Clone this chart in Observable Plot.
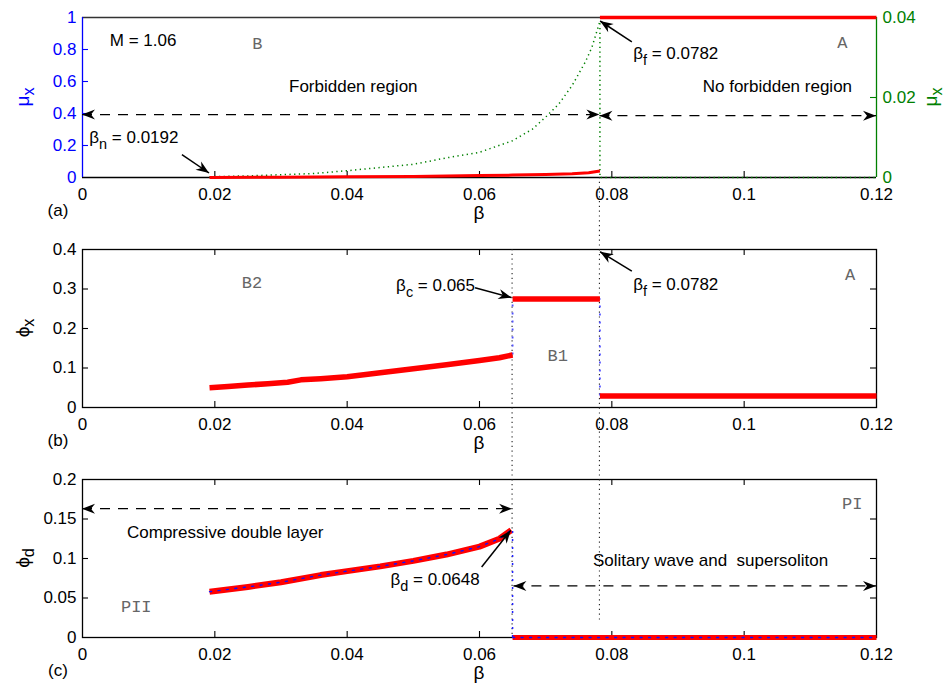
<!DOCTYPE html>
<html>
<head>
<meta charset="utf-8">
<script src="https://cdn.jsdelivr.net/npm/d3@7"></script>
<script src="https://cdn.jsdelivr.net/npm/@observablehq/plot@0.6"></script>
<style>
  body { margin: 0; background: #fff; }
  #fig { width: 949px; height: 683px; position: relative; overflow: hidden; }
  #fig svg { display: block; }
</style>
</head>
<body>
<div id="fig"></div>
<script>
// ---- tick values ----
const betaTicks = [0, 0.02, 0.04, 0.06, 0.08, 0.1, 0.12];
const muTicks = [0, 0.2, 0.4, 0.6, 0.8, 1];
const muRightTicks = [0, 0.02, 0.04];
const phiXTicks = [0, 0.1, 0.2, 0.3, 0.4];
const phiDTicks = [0, 0.05, 0.1, 0.15, 0.2];

// ---- critical β values (M = 1.06) ----
const betaN = 0.0192, betaC = 0.065, betaD = 0.0648, betaF = 0.0782;

// ---- (a) μ_x, left axis (red) ----
const muBetaLow = [0.0192, 0.03, 0.04, 0.05, 0.06, 0.065, 0.07, 0.074, 0.0765, 0.0782];
const muLow     = [0, 0.002, 0.004, 0.007, 0.012, 0.015, 0.019, 0.024, 0.03, 0.04];
const muBetaHigh = [0.0782, 0.12];
const muHigh     = [1, 1];

// ---- (a) μ_x, right axis (green dotted) ----
const mu2Beta = [0.0192, 0.025, 0.03, 0.035, 0.04, 0.045, 0.05, 0.055, 0.06, 0.065, 0.068, 0.07, 0.072, 0.074, 0.076, 0.077, 0.0782, 0.0782, 0.12];
const mu2     = [0.0002, 0.0004, 0.0007, 0.001, 0.0017, 0.0025, 0.0033, 0.0049, 0.0063, 0.0092, 0.0121, 0.0151, 0.0184, 0.023, 0.0289, 0.0326, 0.039, 0, 0];

// ---- (b) ϕ_x ----
const phiXBeta = [0.0192, 0.022, 0.025, 0.028, 0.031, 0.033, 0.036, 0.04, 0.045, 0.05, 0.055, 0.06, 0.063, 0.065];
const phiX     = [0.05, 0.053, 0.057, 0.06, 0.064, 0.07, 0.073, 0.078, 0.088, 0.098, 0.108, 0.119, 0.126, 0.133];
const phiXMidBeta = [0.065, 0.0782];
const phiXMid     = [0.275, 0.275];
const phiXHighBeta = [0.0782, 0.12];
const phiXHigh     = [0.029, 0.029];

// ---- (c) ϕ_d ----
const phiDBeta = [0.0192, 0.025, 0.03, 0.036, 0.04, 0.045, 0.05, 0.055, 0.06, 0.063, 0.0648];
const phiD     = [0.058, 0.064, 0.07, 0.079, 0.084, 0.09, 0.097, 0.105, 0.115, 0.125, 0.136];
const phiDHighBeta = [0.065, 0.12];
const phiDHigh     = [0, 0];

// ---- styling ----
const FONT = "'Liberation Sans', Arial, Helvetica, sans-serif";
const MONO = "'Liberation Mono', 'Courier New', monospace";
const RED = "#ff0000", BLUE = "#0000ff", GREEN = "#008000";
const W = 949, ML = 82, MR = 73;

const pts = (xs, ys) => xs.map((b, i) => ({b, v: ys[i]}));

// text with _{sub} subscripts
function addRich(text, str, shift) {
  const parts = str.split(/(_\{[^}]*\})/).filter(s => s);
  let down = false;
  for (const p of parts) {
    const m = p.match(/^_\{([^}]*)\}$/);
    const ts = text.append("tspan");
    if (m) { ts.text(m[1]).attr("dy", shift).attr("font-size", "0.85em"); down = true; }
    else { ts.text(p); if (down) { ts.attr("dy", -shift); down = false; } }
  }
}

// annotation labels placed in data coordinates
function notes(list) {
  return (index, scales) => {
    const g = d3.create("svg:g").style("white-space", "pre");
    for (const n of list) {
      const size = n.size || 17;
      const t = g.append("text")
        .attr("x", scales.x(n.x))
        .attr("y", scales.y(n.y) + size * 0.36)
        .attr("text-anchor", n.anchor || "middle")
        .attr("font-family", n.mono ? MONO : FONT)
        .attr("font-size", size)
        .attr("fill", n.mono ? "#666" : "black");
      addRich(t, n.text, 6);
    }
    return g.node();
  };
}

// filled, notched arrow head
function head(g, tx, ty, fx, fy, L, Wd, notch) {
  const a = Math.atan2(ty - fy, tx - fx);
  const p = [[0, 0], [-L, -Wd], [-notch, 0], [-L, Wd]].map(([u, v]) =>
    [tx + u * Math.cos(a) - v * Math.sin(a), ty + u * Math.sin(a) + v * Math.cos(a)]);
  g.append("path").attr("d", "M" + p.map(q => q.join(",")).join("L") + "Z").attr("fill", "black");
}

function arrows(list) {
  return (index, scales) => {
    const g = d3.create("svg:g");
    for (const a of list) {
      const x1 = scales.x(a.x1), y1 = scales.y(a.y1), x2 = scales.x(a.x2), y2 = scales.y(a.y2);
      g.append("line").attr("x1", x1).attr("y1", y1).attr("x2", x2).attr("y2", y2)
        .attr("stroke", "black").attr("stroke-width", a.dashed ? 1.3 : 1.5)
        .attr("stroke-dasharray", a.dashed ? "10,8" : null);
      head(g, x2, y2, x1, y1, 13, 5, 9);
      if (a.both) head(g, x1, y1, x2, y2, 13, 5, 9);
    }
    return g.node();
  };
}

// dotted vertical guides, may run into the margins ("top"/"bottom" = svg edge)
function guides(list) {
  return (index, scales, values, dim) => {
    const g = d3.create("svg:g").attr("stroke", "#222").attr("stroke-width", 1.1).attr("stroke-dasharray", "1.2,3.6");
    for (const d of list) {
      const px = scales.x(d.x);
      const ya = d.from === "top" ? 0 : scales.y(d.from);
      const yb = d.to === "bottom" ? dim.height : scales.y(d.to);
      g.append("line").attr("x1", px).attr("x2", px).attr("y1", ya).attr("y2", yb);
    }
    return g.node();
  };
}

// axis titles and panel tag
function titles({yTitle, yColor = "black", rTitle, rColor, tag}) {
  return (index, scales, values, dim) => {
    const g = d3.create("svg:g").attr("font-family", FONT);
    const top = dim.marginTop, bottom = dim.height - dim.marginBottom;
    const midY = (top + bottom) / 2;
    const midX = (dim.marginLeft + dim.width - dim.marginRight) / 2;
    const t = g.append("text").attr("transform", `translate(29,${midY}) rotate(-90)`)
      .attr("text-anchor", "middle").attr("font-size", 19).attr("fill", yColor);
    addRich(t, yTitle, 5);
    if (rTitle) {
      const r = g.append("text").attr("transform", `translate(937,${midY}) rotate(-90)`)
        .attr("text-anchor", "middle").attr("font-size", 19).attr("fill", rColor);
      addRich(r, rTitle, 5);
    }
    g.append("text").attr("x", midX).attr("y", bottom + 42).attr("text-anchor", "middle")
      .attr("font-size", 19).text("β");
    g.append("text").attr("x", 58).attr("y", bottom + 39).attr("text-anchor", "middle")
      .attr("font-size", 17).text(tag);
    return g.node();
  };
}

// inward tick marks on the four sides
function innerTicks(innerW, innerH, yInner, {xTop = true, leftColor = "black", rightTicks = yInner, rightColor = "black"} = {}) {
  const xInner = betaTicks.slice(1, -1);
  const m = [
    Plot.tickX(xInner, {x: d => d, insetTop: innerH - 6, stroke: "black", strokeWidth: 1.1}),
    Plot.tickY(yInner, {y: d => d, insetRight: innerW - 6, stroke: leftColor, strokeWidth: 1.1}),
    Plot.tickY(rightTicks, {y: d => d, insetLeft: innerW - 6, stroke: rightColor, strokeWidth: 1.1})
  ];
  if (xTop) m.push(Plot.tickX(xInner, {x: d => d, insetBottom: innerH - 6, stroke: "black", strokeWidth: 1.1}));
  return m;
}

function xAxis() {
  return Plot.axisX({ticks: betaTicks, tickSize: 0, tickPadding: 10, tickFormat: d => `${d}`, label: null, fontSize: 17});
}

function panel(height, marginTop, marginBottom, yDomain, marks) {
  return Plot.plot({
    width: W, height, marginLeft: ML, marginRight: MR, marginTop, marginBottom,
    style: {fontFamily: FONT, fontSize: "17px", background: "white", overflow: "visible", color: "black"},
    x: {domain: [0, 0.12]},
    y: {domain: yDomain},
    marks
  });
}

const fig = document.getElementById("fig");
const redLine = (xs, ys, w) => Plot.line(pts(xs, ys), {x: "b", y: "v", stroke: RED, strokeWidth: w, strokeLinecap: "butt"});

// ---------- (a) ----------
const muRight = d3.scaleLinear([0, 0.04], [0, 1]);
const mu2Data = pts(mu2Beta, mu2.map(v => muRight(v)));
const pA = panel(230, 17, 53, [0, 1], [
  Plot.ruleY([0], {stroke: "black", strokeWidth: 1.3}),
  Plot.ruleY([1], {stroke: "#333", strokeWidth: 1.3}),
  Plot.ruleX([0], {stroke: BLUE, strokeWidth: 1.3}),
  Plot.ruleX([0.12], {stroke: GREEN, strokeWidth: 1.3}),
  ...innerTicks(794, 160, muTicks.slice(1, -1), {xTop: false, leftColor: BLUE, rightTicks: [muRight(0.02)], rightColor: GREEN}),
  xAxis(),
  Plot.axisY({ticks: muTicks, tickSize: 0, tickPadding: 6, tickFormat: d => `${d}`, label: null, fontSize: 17, color: BLUE}),
  Plot.axisY({anchor: "right", ticks: muRightTicks.map(v => muRight(v)), tickSize: 0, tickPadding: 6,
    tickFormat: d => `${+muRight.invert(d).toFixed(3)}`, label: null, fontSize: 17, color: GREEN}),
  guides([{x: betaF, from: 0, to: "bottom"}]),
  Plot.line(mu2Data, {x: "b", y: "v", stroke: GREEN, strokeWidth: 1.5, strokeDasharray: "1.3,3.4", strokeLinecap: "butt"}),
  redLine(muBetaLow, muLow, 3),
  redLine(muBetaHigh, muHigh, 3.5),
  arrows([
    {x1: 0, y1: 0.39, x2: betaF, y2: 0.39, dashed: true, both: true},
    {x1: betaF, y1: 0.383, x2: 0.12, y2: 0.383, dashed: true, both: true},
    {x1: 0.0151, y1: 0.14, x2: 0.0192, y2: 0.025},
    {x1: 0.0831, y1: 0.844, x2: 0.0783, y2: 0.975}
  ]),
  notes([
    {text: "M = 1.06", x: 0.0042, y: 0.856, anchor: "start"},
    {text: "B", x: 0.0265, y: 0.8375, mono: true},
    {text: "Forbidden region", x: 0.041, y: 0.569},
    {text: "No forbidden region", x: 0.1051, y: 0.569},
    {text: "A", x: 0.1149, y: 0.844, mono: true},
    {text: "β_{n} = 0.0192", x: 0.0011, y: 0.25, anchor: "start"},
    {text: "β_{f} = 0.0782", x: 0.0833, y: 0.773, anchor: "start"}
  ]),
  titles({yTitle: "μ_{x}", yColor: BLUE, rTitle: "μ_{x}", rColor: GREEN, tag: "(a)"})
]);
fig.appendChild(pA);

// ---------- (b) ----------
const pB = panel(230, 19, 53, [0, 0.4], [
  Plot.frame({stroke: "black", strokeWidth: 1.3}),
  ...innerTicks(794, 158, phiXTicks.slice(1, -1)),
  xAxis(),
  Plot.axisY({ticks: phiXTicks, tickSize: 0, tickPadding: 6, tickFormat: d => `${d}`, label: null, fontSize: 17}),
  guides([{x: betaF, from: "top", to: "bottom"}, {x: betaC, from: 0.4, to: "bottom"}]),
  Plot.ruleX([betaC], {y1: phiX[phiX.length - 1], y2: phiXMid[0], stroke: "#5050ff", strokeWidth: 1.8, strokeDasharray: "2,6"}),
  Plot.ruleX([betaF], {y1: phiXHigh[0], y2: phiXMid[1], stroke: "#5050ff", strokeWidth: 1.8, strokeDasharray: "2,6"}),
  redLine(phiXBeta, phiX, 5.5),
  redLine(phiXMidBeta, phiXMid, 5.5),
  redLine(phiXHighBeta, phiXHigh, 5.5),
  arrows([
    {x1: 0.0594, y1: 0.302, x2: 0.0649, y2: 0.277},
    {x1: 0.0831, y1: 0.344, x2: 0.0783, y2: 0.393}
  ]),
  notes([
    {text: "B2", x: 0.0257, y: 0.3165, mono: true},
    {text: "β_{c} = 0.065", x: 0.0594, y: 0.308, anchor: "end"},
    {text: "β_{f} = 0.0782", x: 0.0833, y: 0.312, anchor: "start"},
    {text: "A", x: 0.1161, y: 0.3376, mono: true},
    {text: "B1", x: 0.0719, y: 0.133, mono: true}
  ]),
  titles({yTitle: "ϕ_{x}", tag: "(b)"})
]);
fig.appendChild(pB);

// ---------- (c) ----------
const pC = panel(223, 19, 46, [0, 0.2], [
  Plot.frame({stroke: "black", strokeWidth: 1.3}),
  ...innerTicks(794, 158, phiDTicks.slice(1, -1)),
  xAxis(),
  Plot.axisY({ticks: phiDTicks, tickSize: 0, tickPadding: 6, tickFormat: d => `${d}`, label: null, fontSize: 17}),
  guides([{x: betaC, from: "top", to: 0}, {x: betaF, from: "top", to: 0.021}]),
  redLine(phiDBeta, phiD, 6),
  redLine(phiDHighBeta, phiDHigh, 5),
  Plot.line(pts(phiDBeta, phiD), {x: "b", y: "v", stroke: "#1010ff", strokeWidth: 1.4, strokeDasharray: "2,6.5"}),
  Plot.line(pts(phiDHighBeta, phiDHigh), {x: "b", y: "v", stroke: "#1010ff", strokeWidth: 1.4, strokeDasharray: "2,6.5"}),
  Plot.ruleX([betaC], {y1: 0, y2: phiD[phiD.length - 1], stroke: "#2020ff", strokeWidth: 1.5, strokeDasharray: "2,6"}),
  arrows([
    {x1: 0, y1: 0.1624, x2: betaC, y2: 0.1624, dashed: true, both: true},
    {x1: 0.0652, y1: 0.0646, x2: 0.12, y2: 0.0646, dashed: true, both: true},
    {x1: 0.0604, y1: 0.0886, x2: betaD, y2: 0.135}
  ]),
  notes([
    {text: "Compressive double layer", x: 0.0068, y: 0.133, anchor: "start"},
    {text: "PII", x: 0.0082, y: 0.040, mono: true},
    {text: "β_{d} = 0.0648", x: 0.0601, y: 0.0738, anchor: "end"},
    {text: "Solitary wave and  supersoliton", x: 0.095, y: 0.097},
    {text: "PI", x: 0.1164, y: 0.1696, mono: true}
  ]),
  titles({yTitle: "ϕ_{d}", tag: "(c)"})
]);
fig.appendChild(pC);
</script>
</body>
</html>
